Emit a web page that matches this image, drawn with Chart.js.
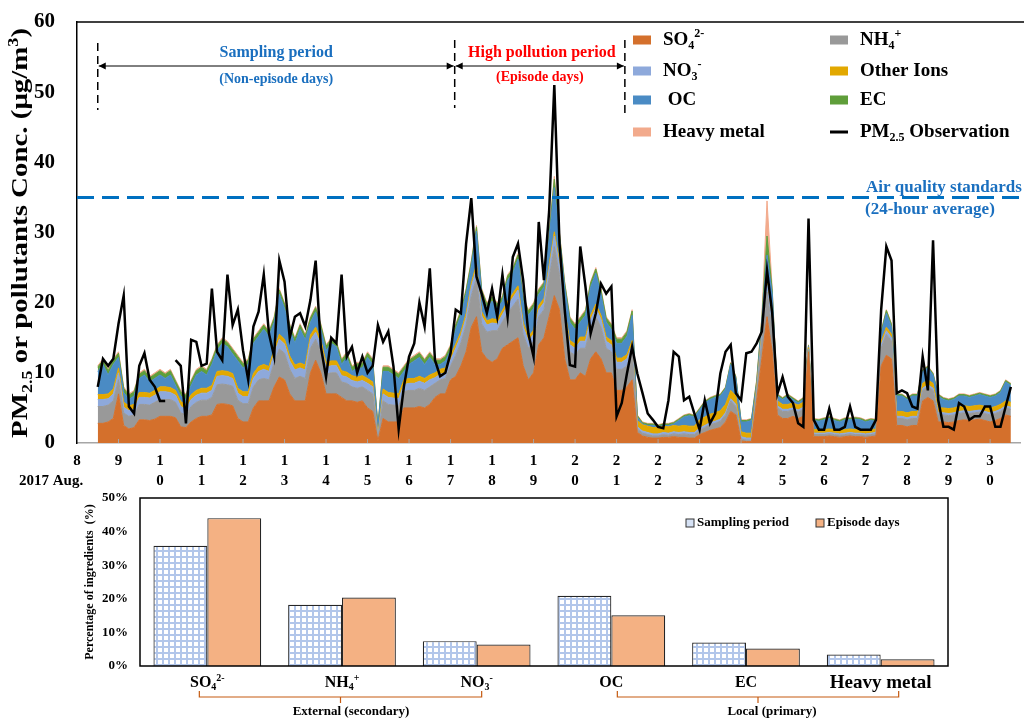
<!DOCTYPE html>
<html>
<head>
<meta charset="utf-8">
<script src="https://cdn.jsdelivr.net/npm/chart.js@4.4.0/dist/chart.umd.min.js"></script>
<style>
  body { margin: 0; background: #fff; }
  .box { position: absolute; left: 0; width: 1024px; }
</style>
</head>
<body>
<div class="box" style="top:0;height:490px"><canvas id="topChart"></canvas></div>
<div class="box" style="top:490px;height:230px"><canvas id="barChart"></canvas></div>
<script>
// ---- data: 3-hourly values from Aug 8 12:00 (ug/m3) ----
const startDay = 8.5;
const stepDays = 0.125;

const pm25 = [8,12,11,12,17,21,5.2,4.2,11,12.8,
  9,8,6,6,null,11.8,11,2.8,14.7,14.4,
  11,11.3,22,13,11.8,24,16.8,19,13.2,9,
  16.6,18.7,24,15.6,12.3,26,23,15,18,18.5,
  16.6,20.4,26,13.7,9.4,15,14.2,24,12.3,13.7,
  10,12.3,10,11,16.8,14.4,15.9,10.9,2,8,
  12.3,14.2,20,16.6,24.9,11.8,9.5,10,12.8,19,
  18.5,28.4,34.9,23.7,21.3,18.5,22,18,24,18,
  26.5,28.4,23.2,15.6,12.3,31.5,23.2,33,51,28.4,
  19,11.1,10.9,28,22.3,15.6,18.5,22.7,21.3,22.3,
  3.8,5.7,9.9,13.7,9.9,7.1,4.2,3.3,2.3,2.1,
  6.1,13,12.3,6.1,6.6,4.2,1.9,6.1,2.8,4.2,
  9.9,13,14,7.1,6.1,12.8,13,14.2,15.9,24.6,
  18.5,7,9.4,6.6,5.7,2.8,2.3,32,3.3,1.9,
  1.9,4.9,1.9,1.9,2.3,5.2,2.3,1.9,1.9,1.9,
  3.3,19,28,26,7.1,7.5,7.1,5.2,4.9,12.3,
  7.5,28.9,6.1,2.3,2.3,1.9,5.7,5.2,3.3,3.8,
  3.8,5.2,5.2,2.3,2.3,5.2,8];

const so4 = [2.8,2.8,3,3.5,7,2.5,2,2.2,3.3,3.3,
  3.2,3.4,3.8,3.8,3.8,3.6,2.3,2.2,3,3.5,
  3.8,3.8,4,5.5,5.6,5.5,5.3,3.5,3,3,
  5,6,6,6,8,9.4,9,7,6,6,
  6,10,11.8,10,7,7,7,6.5,6,6,
  5.8,6,5,4.5,0.3,3.5,3,3,3,5,
  5,5,5.2,5,5.5,6.5,7,7,9,9.5,
  11,13,16.5,18,13,12,11.5,12,13.5,14,
  14.5,15,11,9,10,14,15,18,21,19,
  12,9,9,10,9.5,12,13,12,10,10,
  7.5,7.5,8,9,1.5,1,0.8,0.7,0.7,0.8,
  0.8,0.9,0.8,0.8,0.7,0.7,1.2,1.5,1.8,2,
  2.2,3,4.5,4,0.3,0.2,0.2,6,12,18,
  13,4,3.5,3.5,3.8,3.5,3.8,13,0.9,0.9,
  0.9,1,0.9,0.8,0.9,1,0.9,0.9,0.8,0.9,
  1,11,12.5,12,2.5,2.5,2.3,2.5,2.5,6,
  6.5,6,3,3,2.9,3,3.2,3.3,3.2,3.3,
  3.4,3.2,3,3.2,3.5,4,3.8];

const nh4 = [2.4,2.4,2.4,2.5,2,1.8,1.8,1.8,2.2,2.2,
  2.2,2.4,2.4,2.4,2.4,2.2,2,1.8,2.2,2.3,
  2.3,2.3,2.5,2.8,2.8,2.8,2.8,2.6,2.6,2.6,
  3,3,3.2,3,3.5,4,3.8,3.5,3.2,3.5,
  3.2,3.5,3,3,2.8,3,3,2.2,2.5,2,
  2,2,2.5,2.5,0.3,2.5,2.5,2.4,2.3,2.3,
  2.5,2.5,2.6,2.5,2.5,2,2,2.2,2,3,
  3.3,3.8,4.5,5.5,4,3.8,4.5,4,3.8,4.5,
  5,5.5,4.5,4.5,4.5,4,4,5.5,7,5,
  5,4,3.5,3.5,4,4.5,5,4.5,3.5,3,
  3,3,3,4,0.5,0.4,0.4,0.3,0.3,0.4,
  0.3,0.4,0.4,0.5,0.5,0.5,0.6,0.7,0.8,0.8,
  0.9,1,1.5,1.2,0.3,0.2,0.2,1,2.5,3.5,
  3,1,1,1,0.9,0.9,1,0.3,0.3,0.3,
  0.3,0.3,0.3,0.3,0.3,0.3,0.3,0.3,0.3,0.3,
  0.3,2.5,3,2.5,1,1,1,1,1,1.5,
  1.5,1.5,1,1,1,1,1,1,1,1,
  1,1,1,1,1,1,1];

const no3 = [1,1,0.9,1,1,0.8,0.8,0.8,1,1,
  1,1,1.1,1.1,1,1,0.9,0.8,1,1,
  1,1,1,1.2,1.2,1.2,1.1,1,1,1,
  1.2,1.2,1.3,1.2,1.2,1.4,1.3,1.2,1.2,1.2,
  1.2,1.2,1,1,1,1,1,0.9,0.9,0.9,
  0.9,0.9,1,1,0.2,1,1,1,1,1,
  1,1,1,1,1,0.8,0.8,0.8,0.8,1,
  1,1.1,1.2,1.4,1.1,1,1.1,1,1,1.1,
  1.2,1.3,1.1,1,1,1,1,1.3,1.5,1.3,
  1.2,1,1,1,1,1.1,1.2,1.1,1,1,
  1,1,1,1,0.3,0.3,0.3,0.3,0.3,0.3,
  0.3,0.3,0.3,0.3,0.3,0.3,0.3,0.3,0.3,0.3,
  0.3,0.3,0.3,0.3,0.3,0.3,0.3,0.5,0.8,1,
  0.8,0.3,0.3,0.3,0.3,0.3,0.3,0.1,0.2,0.2,
  0.2,0.2,0.2,0.2,0.2,0.2,0.2,0.2,0.2,0.2,
  0.2,0.5,0.5,0.5,0.3,0.3,0.3,0.3,0.3,0.3,
  0.3,0.3,0.3,0.3,0.3,0.3,0.3,0.3,0.3,0.3,
  0.3,0.3,0.3,0.3,0.3,0.3,0.3];

const otherIons = [0.7,0.7,0.7,0.7,0.7,0.7,0.7,0.7,0.7,0.7,
  0.7,0.7,0.7,0.7,0.7,0.7,0.7,0.7,0.7,0.7,
  0.7,0.7,0.7,0.7,0.7,0.7,0.7,0.7,0.7,0.7,
  0.7,0.7,0.7,0.7,0.7,0.7,0.7,0.7,0.7,0.7,
  0.7,0.7,0.7,0.7,0.7,0.7,0.7,0.7,0.7,0.7,
  0.7,0.7,0.7,0.7,0.3,0.7,0.7,0.7,0.7,0.7,
  0.7,0.7,0.7,0.7,0.7,0.7,0.7,0.7,0.7,0.6,
  0.6,0.6,0.6,0.6,0.6,0.6,0.6,0.6,0.6,0.6,
  0.6,0.6,0.6,0.6,0.6,0.6,0.6,0.6,0.6,0.6,
  0.6,0.6,0.6,0.6,0.6,0.6,0.6,0.6,0.6,0.6,
  0.6,0.6,0.6,0.6,0.9,0.9,0.9,0.9,0.9,0.9,
  0.9,0.9,0.9,0.9,0.9,0.9,1.2,1.2,1.2,1.2,
  1.2,1.2,1.2,1.2,0.7,0.7,0.7,0.5,0.5,0.8,
  0.5,0.7,0.7,0.7,0.7,0.7,0.7,0.2,0.5,0.5,
  0.5,0.5,0.5,0.5,0.5,0.5,0.5,0.5,0.5,0.5,
  0.5,0.5,0.5,0.5,0.7,0.7,0.7,0.7,0.7,0.7,
  0.7,0.7,0.7,0.7,0.7,0.7,0.7,0.7,0.7,0.7,
  0.7,0.7,0.7,0.7,0.7,0.7,0.7];

const oc = [3.3,4.3,2.7,3.5,1.5,1.4,0.9,1.2,2.0,2.5,
  1.6,1.7,1.7,1.2,1.8,0.7,0.8,0.7,1.3,2.2,
  2.4,1.9,3.0,3.0,3.9,3.5,2.8,3.9,3.4,3.9,
  4.3,4.3,5.0,4.3,3.8,5.7,4.4,3.8,3.1,4.8,
  3.6,1.8,2.2,1.5,1.7,2.5,2.0,0.9,2.1,0.6,
  1.3,1.1,3.0,2.5,1.2,2.5,3.0,2.6,2.2,1.2,
  2.0,2.5,2.7,2.0,2.5,1.2,0.7,1.0,0.7,2.1,
  2.3,2.7,2.4,4.7,2.5,1.8,2.5,1.6,1.3,3.0,
  2.9,3.8,3.0,3.1,3.1,1.6,1.6,3.8,6.3,3.3,
  3.4,2.6,2.1,2.1,3.1,4.0,4.4,3.0,2.1,1.6,
  2.1,2.1,2.6,3.6,0.5,0.1,0.1,0.3,0.1,0.1,
  0.2,0.2,0.8,1.2,1.5,1.3,1.4,2.0,2.1,2.2,
  2.1,2.2,3.7,2.5,1.4,1.6,1.8,0.4,1.5,3.5,
  4.0,0.7,0.7,1.2,0.5,0.3,0.4,0.2,1.3,1.2,
  1.4,1.5,1.3,1.2,1.4,1.3,1.5,1.4,1.2,1.3,
  1.1,1.0,2.0,1.0,2.2,2.2,1.9,2.2,2.2,1.7,
  1.7,1.2,1.7,1.2,1.1,1.2,1.5,1.4,1.3,1.4,
  1.5,1.5,1.5,1.5,1.7,2.7,2.4];

const ec = [0.6,0.6,0.6,0.6,0.6,0.6,0.6,0.6,0.6,0.6,
  0.6,0.6,0.6,0.6,0.6,0.6,0.6,0.6,0.6,0.6,
  0.6,0.6,0.6,0.6,0.6,0.6,0.6,0.6,0.6,0.6,
  0.6,0.6,0.6,0.6,0.6,0.6,0.6,0.6,0.6,0.6,
  0.6,0.6,0.6,0.6,0.6,0.6,0.6,0.6,0.6,0.6,
  0.6,0.6,0.6,0.6,0.1,0.6,0.6,0.6,0.6,0.6,
  0.6,0.6,0.6,0.6,0.6,0.6,0.6,0.6,0.6,0.6,
  0.6,0.6,0.6,0.6,0.6,0.6,0.6,0.6,0.6,0.6,
  0.6,0.6,0.6,0.6,0.6,0.6,0.6,0.6,1.2,0.6,
  0.6,0.6,0.6,0.6,0.6,0.6,0.6,0.6,0.6,0.6,
  0.6,0.6,0.6,0.6,0.2,0.2,0.2,0.2,0.2,0.2,
  0.2,0.2,0.2,0.2,0.2,0.2,0.2,0.2,0.2,0.2,
  0.2,0.2,0.2,0.2,0.2,0.2,0.2,0.4,0.5,2.7,
  0.5,0.2,0.2,0.2,0.2,0.2,0.2,0.1,0.2,0.2,
  0.2,0.2,0.2,0.2,0.2,0.2,0.2,0.2,0.2,0.2,
  0.2,0.4,0.4,0.4,0.2,0.2,0.2,0.2,0.2,0.2,
  0.2,0.2,0.2,0.2,0.2,0.2,0.2,0.2,0.2,0.2,
  0.2,0.2,0.2,0.2,0.2,0.2,0.2];

const heavyMetal = [0.2,0.2,0.2,0.2,0.2,0.2,0.2,0.2,0.2,0.2,
  0.2,0.2,0.2,0.2,0.2,0.2,0.2,0.2,0.2,0.2,
  0.2,0.2,0.2,0.2,0.2,0.2,0.2,0.2,0.2,0.2,
  0.2,0.2,0.2,0.2,0.2,0.2,0.2,0.2,0.2,0.2,
  0.2,0.2,0.2,0.2,0.2,0.2,0.2,0.2,0.2,0.2,
  0.2,0.2,0.2,0.2,0.1,0.2,0.2,0.2,0.2,0.2,
  0.2,0.2,0.2,0.2,0.2,0.2,0.2,0.2,0.2,0.2,
  0.2,0.2,0.2,0.2,0.2,0.2,0.2,0.2,0.2,0.2,
  0.2,0.2,0.2,0.2,0.2,0.2,0.2,0.2,0.4,0.2,
  0.2,0.2,0.2,0.2,0.2,0.2,0.2,0.2,0.2,0.2,
  0.2,0.2,0.2,0.2,0.1,0.1,0.1,0.1,0.1,0.1,
  0.1,0.1,0.1,0.1,0.1,0.1,0.1,0.1,0.1,0.1,
  0.1,0.1,0.1,0.1,0.1,0.1,0.1,0.2,0.2,5,
  0.2,0.1,0.1,0.1,0.1,0.1,0.1,0.1,0.1,0.1,
  0.1,0.1,0.1,0.1,0.1,0.1,0.1,0.1,0.1,0.1,
  0.1,0.1,0.1,0.1,0.1,0.1,0.1,0.1,0.1,0.1,
  0.1,0.1,0.1,0.1,0.1,0.1,0.1,0.1,0.1,0.1,
  0.1,0.1,0.1,0.1,0.1,0.1,0.1];

const airStandard = 35;
const yTicksTop = [0, 60, 10]; // min, max, step

// ---- bottom bar chart data (%) ----
const barCategories = ['SO4', 'NH4', 'NO3', 'OC', 'EC', 'Heavy metal'];
const samplingPct = [35.8, 18.2, 7.4, 20.9, 7.0, 3.4];
const episodePct = [44.0, 20.4, 6.4, 15.1, 5.2, 2.0];

const FONT = "'Liberation Serif', 'Times New Roman', serif";
const BLUE_TXT = '#1A6FBF';

const colors = {
  so4: '#D4702C', nh4: '#999999', no3: '#8EA9DB', other: '#E2A800',
  oc: '#4A8BC4', ec: '#5F9E3A', hm: '#F2AA8C'
};

// time stamps for every reading
const times = pm25.map((_, i) => startDay + i * stepDays);
const pts = arr => arr.map((v, i) => ({ x: times[i], y: v }));

function richSegs(parts) {
  return parts.map(p => typeof p === 'string' ? [p, ''] : p);
}
function richFont(m, size) {
  return 'bold ' + (m ? Math.round(size * 0.62) : size) + 'px ' + FONT;
}
function richWidth(ctx, parts, size) {
  let w = 0;
  richSegs(parts).forEach(([t, m]) => { ctx.font = richFont(m, size); w += ctx.measureText(t).width; });
  return w;
}

// draw text with sub/superscript parts
function drawRich(ctx, parts, x, y, size, align, color) {
  const w = richWidth(ctx, parts, size);
  let cx = align === 'center' ? x - w / 2 : (align === 'right' ? x - w : x);
  ctx.fillStyle = color;
  ctx.textAlign = 'left';
  ctx.textBaseline = 'middle';
  richSegs(parts).forEach(([t, m]) => {
    ctx.font = richFont(m, size);
    const dy = m === 'sub' ? size * 0.3 : (m === 'sup' ? -size * 0.3 : 0);
    ctx.fillText(t, cx, y + dy);
    cx += ctx.measureText(t).width;
  });
}

function arrowHead(ctx, x, y, dir) {
  ctx.beginPath();
  ctx.moveTo(x, y);
  ctx.lineTo(x - dir * 7, y - 3.5);
  ctx.lineTo(x - dir * 7, y + 3.5);
  ctx.closePath();
  ctx.fill();
}

// no label overhang padding, so the plot box sits where the layout padding says
function fixWidth(w) {
  return s => { s.width = w; s.paddingTop = 0; s.paddingBottom = 0; };
}

// ---- plugin with annotations for the top chart ----
const topDecor = {
  id: 'topDecor',
  afterDatasetsDraw(chart) {
    const { ctx, chartArea: a, scales: { y } } = chart;
    const py = y.getPixelForValue(airStandard);
    ctx.save();
    ctx.strokeStyle = '#0070C0';
    ctx.lineWidth = 3;
    ctx.setLineDash([17, 8]);
    ctx.beginPath();
    ctx.moveTo(a.left, py);
    ctx.lineTo(a.right, py);
    ctx.stroke();
    ctx.restore();
  },
  afterDraw(chart) {
    const { ctx, chartArea: a, scales: { x } } = chart;
    ctx.save();
    // top frame line
    ctx.strokeStyle = '#000';
    ctx.lineWidth = 1.5;
    ctx.beginPath();
    ctx.moveTo(a.left, a.top);
    ctx.lineTo(a.right + 4, a.top);
    ctx.stroke();
    // small inward day ticks
    ctx.strokeStyle = '#A6A6A6';
    ctx.lineWidth = 1;
    for (let d = 9; d <= 30; d++) {
      const px = x.getPixelForValue(d);
      ctx.beginPath();
      ctx.moveTo(px, a.bottom);
      ctx.lineTo(px, a.bottom - 4);
      ctx.stroke();
    }

    // period markers
    const p0 = x.getPixelForValue(8.5), p1 = x.getPixelForValue(17.1), p2 = x.getPixelForValue(21.2);
    ctx.strokeStyle = '#000';
    ctx.lineWidth = 1.5;
    ctx.setLineDash([8, 5]);
    [[p0, 43, 110], [p1, 40, 108], [p2, 40, 117]].forEach(([px, y1, y2]) => {
      ctx.beginPath();
      ctx.moveTo(px, y1);
      ctx.lineTo(px, y2);
      ctx.stroke();
    });
    ctx.setLineDash([]);
    ctx.lineWidth = 1;
    ctx.fillStyle = '#000';
    [[p0, p1], [p1, p2]].forEach(([l, r]) => {
      ctx.beginPath();
      ctx.moveTo(l + 1, 66);
      ctx.lineTo(r - 1, 66);
      ctx.stroke();
      arrowHead(ctx, l + 1, 66, -1);
      arrowHead(ctx, r - 1, 66, 1);
    });

    ctx.textAlign = 'center';
    ctx.textBaseline = 'middle';
    ctx.fillStyle = BLUE_TXT;
    ctx.font = 'bold 16px ' + FONT;
    ctx.fillText('Sampling period', (p0 + p1) / 2, 53);
    ctx.font = 'bold 14px ' + FONT;
    ctx.fillText('(Non-episode days)', (p0 + p1) / 2, 79);
    ctx.fillStyle = '#FF0000';
    ctx.font = 'bold 16px ' + FONT;
    ctx.fillText('High pollution period', (p1 + p2) / 2 + 2, 53);
    ctx.font = 'bold 14px ' + FONT;
    ctx.fillText('(Episode days)', (p1 + p2) / 2, 77);

    // air quality label
    ctx.textAlign = 'left';
    ctx.fillStyle = BLUE_TXT;
    ctx.font = 'bold 17px ' + FONT;
    ctx.fillText('Air quality standards', 866, 188);
    ctx.fillText('(24-hour average)', 865, 210);

    // legend
    const legendItems = [
      [633, 40, colors.so4, ['SO', ['4', 'sub'], ['2-', 'sup']]],
      [633, 71, colors.no3, ['NO', ['3', 'sub'], ['-', 'sup']]],
      [633, 100, colors.oc, [' OC']],
      [633, 132, colors.hm, ['Heavy metal']],
      [830, 40, colors.nh4, ['NH', ['4', 'sub'], ['+', 'sup']]],
      [830, 71, colors.other, ['Other Ions']],
      [830, 100, colors.ec, ['EC']],
      [830, 132, null, ['PM', ['2.5', 'sub'], ' Observation']]
    ];
    legendItems.forEach(([lx, ly, c, parts]) => {
      if (c) {
        ctx.fillStyle = c;
        ctx.fillRect(lx, ly - 4.5, 18, 9);
      } else {
        ctx.fillStyle = '#000';
        ctx.fillRect(lx, ly - 1.5, 18, 3);
      }
      drawRich(ctx, parts, lx + 30, ly, 19, 'left', '#000');
    });

    // axis title, stretched along its length like the original
    const titleParts = ['PM', ['2.5', 'sub'], ' or pollutants Conc. (\u03bcg/m', ['3', 'sup'], ')'];
    ctx.save();
    ctx.translate(21, 233);
    ctx.rotate(-Math.PI / 2);
    ctx.scale(410 / richWidth(ctx, titleParts, 24), 1);
    drawRich(ctx, titleParts, 0, 0, 24, 'center', '#000');
    ctx.restore();

    ctx.fillStyle = '#000';
    ctx.font = 'bold 15px ' + FONT;
    ctx.textAlign = 'left';
    ctx.textBaseline = 'middle';
    ctx.fillText('2017 Aug.', 19, 481);
    ctx.restore();
  }
};

function areaSet(label, arr, color, fill) {
  return {
    label, data: pts(arr), backgroundColor: color, borderColor: color,
    borderWidth: 1, pointRadius: 0, fill, stack: 'comp', tension: 0
  };
}

// ---- top chart ----
new Chart(document.getElementById('topChart'), {
  type: 'line',
  data: {
    datasets: [
      { label: 'PM2.5 Observation', data: pts(pm25), borderColor: '#000', borderWidth: 2.5,
        pointRadius: 0, fill: false, stack: 'obs', tension: 0 },
      areaSet('SO4', so4, colors.so4, 'origin'),
      areaSet('NH4', nh4, colors.nh4, '-1'),
      areaSet('NO3', no3, colors.no3, '-1'),
      areaSet('Other Ions', otherIons, colors.other, '-1'),
      areaSet('OC', oc, colors.oc, '-1'),
      areaSet('EC', ec, colors.ec, '-1'),
      areaSet('Heavy metal', heavyMetal, colors.hm, '-1')
    ]
  },
  options: {
    responsive: true,
    maintainAspectRatio: false,
    animation: false,
    layout: { padding: { left: 0, right: 4, top: 22, bottom: 0 } },
    plugins: { legend: { display: false }, tooltip: { enabled: false } },
    scales: {
      x: {
        type: 'linear', min: 8, max: 30.72,
        afterFit: s => { s.height = 47; },
        grid: { display: false, drawTicks: false },
        border: { display: true, color: '#A6A6A6', width: 1.5 },
        ticks: {
          stepSize: 1, autoSkip: false, includeBounds: false, maxRotation: 0, padding: 8, color: '#000',
          font: { family: FONT, size: 15, weight: 'bold', lineHeight: 1.33 },
          callback: v => Number.isInteger(v) ? (v >= 10 ? String(v).split('') : String(v)) : ''
        }
      },
      y: {
        stacked: true, min: yTicksTop[0], max: yTicksTop[1],
        afterFit: fixWidth(77),
        grid: { display: false, drawTicks: false },
        border: { display: true, color: '#000', width: 1.5 },
        ticks: { stepSize: yTicksTop[2], padding: 22, color: '#000',
          font: { family: FONT, size: 21, weight: 'bold' } }
      }
    }
  },
  plugins: [topDecor]
});

// ---- grid pattern for the sampling bars ----
const pc = document.createElement('canvas');
pc.width = 6; pc.height = 6;
const pctx = pc.getContext('2d');
pctx.fillStyle = '#fff';
pctx.fillRect(0, 0, 6, 6);
pctx.fillStyle = '#B2C6EA';
pctx.fillRect(0, 0, 6, 2);
pctx.fillRect(0, 0, 2, 6);
const gridPattern = document.createElement('canvas').getContext('2d').createPattern(pc, 'repeat');

const barLabelParts = {
  'SO4': ['SO', ['4', 'sub'], ['2-', 'sup']],
  'NH4': ['NH', ['4', 'sub'], ['+', 'sup']],
  'NO3': ['NO', ['3', 'sub'], ['-', 'sup']],
  'OC': ['OC'], 'EC': ['EC'], 'Heavy metal': ['Heavy metal']
};

function bracket(ctx, x1, x2, y, label, textX) {
  const mid = (x1 + x2) / 2;
  ctx.strokeStyle = '#C55A11';
  ctx.lineWidth = 1.2;
  ctx.beginPath();
  ctx.moveTo(x1, y - 6);
  ctx.lineTo(x1, y);
  ctx.lineTo(x2, y);
  ctx.lineTo(x2, y - 6);
  ctx.moveTo(mid, y);
  ctx.lineTo(mid, y + 6);
  ctx.stroke();
  ctx.fillStyle = '#000';
  ctx.font = 'bold 13px ' + FONT;
  ctx.textAlign = 'center';
  ctx.textBaseline = 'middle';
  ctx.fillText(label, textX, y + 15);
}

const barDecor = {
  id: 'barDecor',
  afterDraw(chart) {
    const { ctx, chartArea: a, scales: { x } } = chart;
    ctx.save();
    ctx.strokeStyle = '#000';
    ctx.lineWidth = 1.5;
    ctx.strokeRect(a.left, a.top, a.right - a.left, a.bottom - a.top);

    barCategories.forEach((c, i) => {
      drawRich(ctx, barLabelParts[c], x.getPixelForValue(i), 193, c === 'Heavy metal' ? 19 : 16, 'center', '#000');
    });

    bracket(ctx, x.getPixelForValue(0) - 8, x.getPixelForValue(2) + 5, 207, 'External (secondary)', 351);
    bracket(ctx, x.getPixelForValue(3) + 6, x.getPixelForValue(5) + 18, 207, 'Local (primary)', 772);

    // legend
    ctx.lineWidth = 1;
    ctx.strokeStyle = '#333';
    ctx.fillStyle = '#D6E2F5';
    ctx.fillRect(686, 29, 8, 8);
    ctx.strokeRect(686, 29, 8, 8);
    ctx.fillStyle = '#F4B183';
    ctx.fillRect(816, 29, 8, 8);
    ctx.strokeRect(816, 29, 8, 8);
    ctx.fillStyle = '#000';
    ctx.font = 'bold 13px ' + FONT;
    ctx.textAlign = 'left';
    ctx.textBaseline = 'middle';
    ctx.fillText('Sampling period', 697, 33);
    ctx.fillText('Episode days', 827, 33);

    // y title
    ctx.translate(90, 92);
    ctx.rotate(-Math.PI / 2);
    ctx.font = 'bold 12px ' + FONT;
    ctx.textAlign = 'center';
    ctx.fillText('Percentage of ingredients  (%)', 0, 0);
    ctx.restore();
  }
};

// ---- bottom bar chart ----
new Chart(document.getElementById('barChart'), {
  type: 'bar',
  data: {
    labels: barCategories,
    datasets: [
      { label: 'Sampling period', data: samplingPct, backgroundColor: gridPattern,
        borderColor: '#262626', borderWidth: 1.2, borderSkipped: 'bottom' },
      { label: 'Episode days', data: episodePct, backgroundColor: '#F4B183',
        borderColor: '#262626', borderWidth: 1.2, borderSkipped: 'bottom' }
    ]
  },
  options: {
    responsive: true,
    maintainAspectRatio: false,
    animation: false,
    categoryPercentage: 0.8,
    barPercentage: 1.0,
    layout: { padding: { left: 0, right: 76, top: 8, bottom: 0 } },
    plugins: { legend: { display: false }, tooltip: { enabled: false } },
    scales: {
      x: {
        afterFit: s => { s.height = 54; },
        grid: { display: false, drawTicks: false },
        border: { display: false },
        ticks: { display: false }
      },
      y: {
        min: 0, max: 50,
        afterFit: fixWidth(140),
        grid: { display: false, drawTicks: false },
        border: { display: false },
        ticks: { stepSize: 10, padding: 12, color: '#000',
          font: { family: FONT, size: 13, weight: 'bold' },
          callback: v => v + '%' }
      }
    }
  },
  plugins: [barDecor]
});
</script>
</body>
</html>
